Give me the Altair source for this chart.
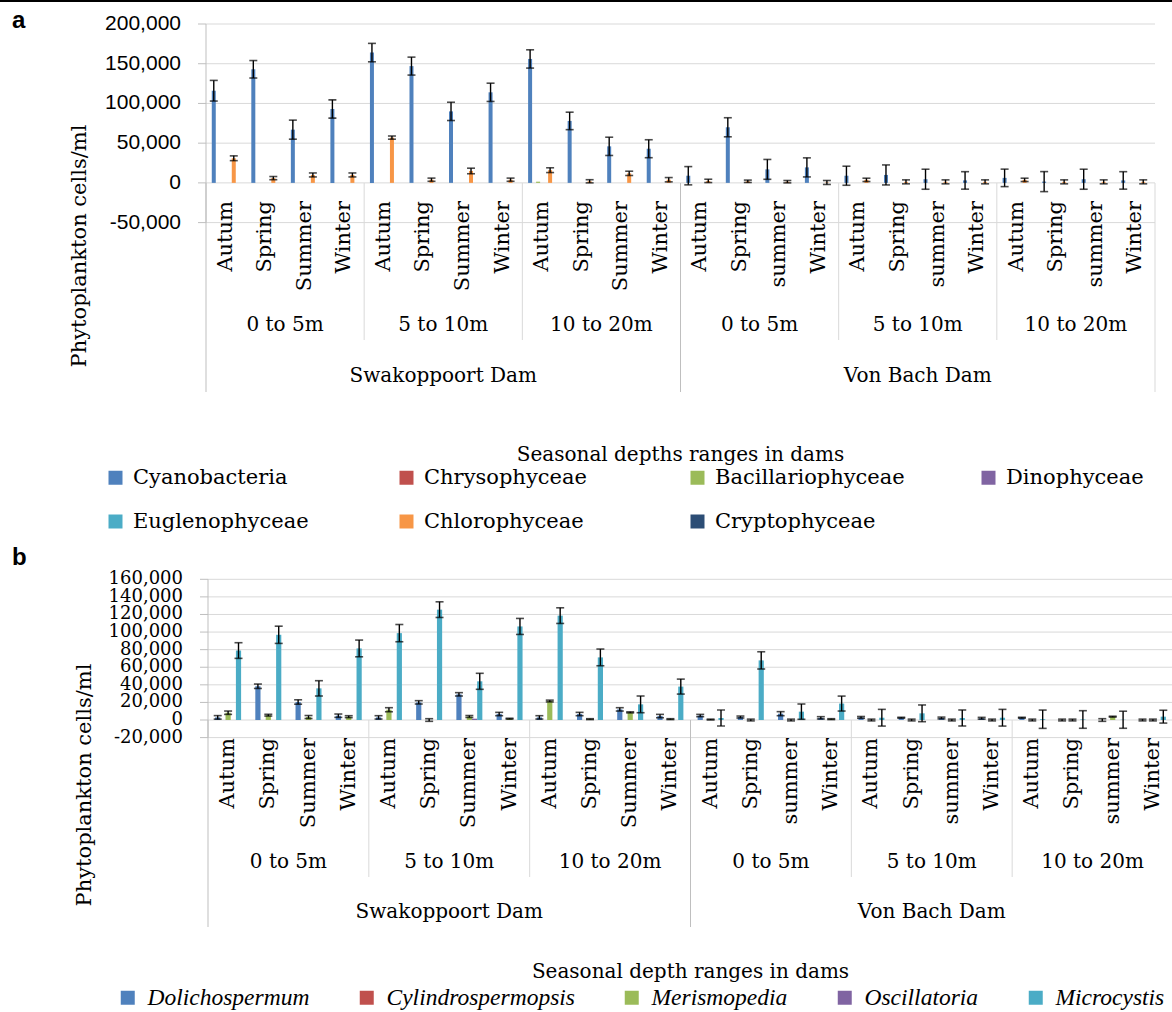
import altair as alt
import pandas as pd

SERIF = "DejaVu Serif"
SERIF_NARROW = "Liberation Serif"
SANS = "Liberation Sans"
TEXT = "#000000"
GRID = "#d9d9d9"
LINE = "#bfbfbf"

# ---- category hierarchy (dam / depth range / season) ----
DAMS = ["Swakoppoort Dam", "Von Bach Dam"]
DEPTHS = ["0 to 5m", "5 to 10m", "10 to 20m"]
SEASONS = {
    "Swakoppoort Dam": ["Autum", "Spring", "Summer", "Winter"],
    "Von Bach Dam": ["Autum", "Spring", "summer", "Winter"],
}

# ---- panel a: phytoplankton classes (cells/ml, mean and error) ----
CLASSES = ["Cyanobacteria", "Chrysophyceae", "Bacillariophyceae", "Dinophyceae",
           "Euglenophyceae", "Chlorophyceae", "Cryptophyceae"]
CLASS_COLORS = ["#4F81BD", "#C0504D", "#9BBB59", "#8064A2", "#4BACC6", "#F79646", "#2C4D75"]

CYANO = [116000, 143000, 67000, 93000, 164000, 147000, 90000, 114000,
         156000, 78000, 46000, 43000, 9000, 70000, 17000, 19500,
         9000, 10000, 4600, 3100, 6300, 1600, 4600, 3100]
CYANO_ERR = [13000, 11000, 12000, 11500, 11600, 11300, 11500, 11500,
             11500, 11000, 11500, 11300, 11500, 12000, 12500, 12000,
             12000, 12600, 12600, 11000, 11000, 12600, 12600, 11000]
CHLORO = [31000, 6000, 10000, 10000, 57000, 4000, 15000, 4000,
          16000, 2000, 12000, 4000, 2500, 2000, 1500, 500,
          3800, 1300, 1300, 1300, 3800, 1300, 1300, 1300]
CHLORO_ERR = [3000, 2000, 2500, 2500, 2000, 2000, 3500, 2000,
              3000, 2000, 2700, 2700, 2100, 1500, 1500, 2500,
              2100, 2500, 2500, 2500, 2100, 2500, 2500, 2500]
BACILL = [None, None, None, None, None, None, None, None,
          1500, None, None, None, None, None, None, None,
          None, None, None, None, None, None, None, None]
BACILL_ERR = [0, 0, 0, 0, 0, 0, 0, 0, 0, 0, 0, 0,
              0, 0, 0, 0, 0, 0, 0, 0, 0, 0, 0, 0]

# ---- panel b: cyanobacteria genera ----
GENERA = ["Dolichospermum", "Cylindrospermopsis", "Merismopedia", "Oscillatoria", "Microcystis"]
GENUS_COLORS = ["#4F81BD", "#C0504D", "#9BBB59", "#8064A2", "#4BACC6"]

DOLICHO = [3000, 38400, 20500, 4900, 3000, 20100, 29200, 6800,
           3000, 6800, 12100, 4500, 5100, 3400, 7200, 2500,
           3000, 2600, 2300, 2000, 2600, 0, 0, 0]
DOLICHO_ERR = [2000, 2500, 2500, 1900, 1900, 1900, 1900, 1900,
               1900, 1900, 1900, 1900, 1300, 1100, 2300, 1300,
               1000, 500, 1000, 1000, 500, 1000, 1500, 1000]
MERIS = [8300, 5500, 3400, 3800, 11700, 0, 4000, 1500,
         21600, 1000, 8700, 1000, 500, 0, 0, 1000,
         0, 0, 0, 0, 0, 0, 3800, 0]
MERIS_ERR = [1900, 1000, 1700, 1100, 2300, 1500, 1100, 500,
             1000, 500, 600, 500, 500, 1000, 1000, 500,
             1000, 1000, 1000, 1000, 1000, 1000, 500, 1000]
OSCILL = [None, None, None, None, None, None, 1500, None,
          None, None, None, None, None, None, None, None,
          None, None, None, None, None, None, None, None]
OSCILL_ERR = [0, 0, 0, 0, 0, 0, 0, 0, 0, 0, 0, 0,
              0, 0, 0, 0, 0, 0, 0, 0, 0, 0, 0, 0]
MICRO = [79000, 96900, 36000, 81400, 98800, 125500, 44000, 106400,
         118700, 71200, 17800, 38000, 2300, 67800, 9500, 18700,
         2600, 7600, 2300, 2600, 900, 600, 300, 3800]
MICRO_ERR = [8900, 9800, 8700, 9500, 9800, 8900, 9100, 9100,
             8900, 9500, 9500, 8500, 9100, 9800, 8700, 8500,
             9500, 9500, 9100, 9500, 10400, 10000, 9700, 7300]

TICKS_A = [-50000, 0, 50000, 100000, 150000, 200000]
TICKS_B = [-20000, 0, 20000, 40000, 60000, 80000, 100000, 120000, 140000, 160000]
Y_TITLE = "Phytoplankton cells/ml"
X_TITLE_A = "Seasonal depths ranges  in dams"
X_TITLE_B = "Seasonal depth ranges in dams"

# ---- tables ----
cat_rows = []
for dam in DAMS:
    for depth in DEPTHS:
        for season in SEASONS[dam]:
            cat_rows.append({"cat": f"{dam} / {depth} / {season}",
                             "dam": dam, "depth": depth, "season": season})
cats = pd.DataFrame(cat_rows)
CAT_KEYS = list(cats["cat"])

depth_labels = pd.DataFrame([{"cat": CAT_KEYS[d * 4 + 2 + k * 12], "label": DEPTHS[d]}
                             for k in range(2) for d in range(3)])
dam_labels = pd.DataFrame([{"cat": CAT_KEYS[k * 12 + 6], "label": DAMS[k]} for k in range(2)])
depth_edges = pd.DataFrame([{"cat": CAT_KEYS[k * 12 + d * 4]} for k in range(2) for d in (1, 2)])
dam_edges = pd.DataFrame([{"cat": CAT_KEYS[0]}, {"cat": CAT_KEYS[12]}])
last_edge = pd.DataFrame([{"cat": CAT_KEYS[-1]}])


def measurements(series):
    rows = []
    for name, (means, errs) in series.items():
        for key, m, e in zip(CAT_KEYS, means, errs):
            if m is None:
                continue
            rows.append({"cat": key, "series": name, "value": m,
                         "lo": m - e, "hi": m + e, "err": e})
    return pd.DataFrame(rows)


def value_axis(ticks, ys, x0, font, size, gap, title_x, title_y):
    """Vertical value axis: line, outward ticks, comma-formatted labels, title."""
    tdf = pd.DataFrame({"tick": ticks, "label": [f"{t:,}" for t in ticks]})
    Y = alt.Y("tick:Q", scale=ys, axis=None)
    line = alt.Chart(pd.DataFrame({"lo": [ticks[0]], "hi": [ticks[-1]]})).mark_rule(
        color=LINE, strokeWidth=1).encode(
        x=alt.value(x0), y=alt.Y("lo:Q", scale=ys, axis=None), y2="hi:Q")
    marks = alt.Chart(tdf).mark_rule(color=LINE, strokeWidth=1).encode(
        x=alt.value(x0 - 8), x2=alt.value(x0), y=Y)
    labels = alt.Chart(tdf).mark_text(
        align="right", baseline="middle", font=font, fontSize=size, color=TEXT).encode(
        x=alt.value(x0 - 8 - gap), y=Y, text="label:N")
    title = alt.Chart(pd.DataFrame({"t": [Y_TITLE]})).mark_text(
        angle=270, align="center", baseline="middle", font=SERIF, fontSize=21,
        color=TEXT).encode(x=alt.value(title_x), y=alt.value(title_y), text="t:N")
    return [line, marks, labels, title]


def panel(data, names, colors, ydomain, yrange, ticks, xrange, bar_w, cap,
          axis_style, rows, x_title, legend):
    xs = alt.Scale(domain=CAT_KEYS, range=xrange, paddingInner=0, paddingOuter=0)
    ys = alt.Scale(domain=ydomain, range=yrange, nice=False, zero=False)
    band = (xrange[1] - xrange[0]) / len(CAT_KEYS)
    cluster = bar_w * len(names)
    offs = alt.Scale(domain=names, range=[(band - cluster) / 2, (band + cluster) / 2],
                     paddingInner=0, paddingOuter=0)
    X = alt.X("cat:N", scale=xs, axis=None)
    XE = alt.X("cat:N", scale=xs, axis=None, bandPosition=0)
    XO = alt.XOffset("series:N", scale=offs)

    grid = alt.Chart(pd.DataFrame({"tick": ticks})).mark_rule(
        color=GRID, strokeWidth=1).encode(
        y=alt.Y("tick:Q", scale=ys, axis=None),
        x=alt.value(xrange[0]), x2=alt.value(xrange[1]))

    bars = alt.Chart(data).mark_bar().encode(
        x=X, xOffset=XO,
        y=alt.Y("value:Q", scale=ys, axis=None),
        color=alt.Color("series:N", scale=alt.Scale(domain=names, range=colors),
                        legend=legend))

    errd = data[data["err"] > 0]
    whisk = alt.Chart(errd).mark_rule(color="black", strokeWidth=1.4).encode(
        x=X, xOffset=XO, y=alt.Y("lo:Q", scale=ys, axis=None), y2="hi:Q")
    cap_lo = alt.Chart(errd).mark_tick(color="black", thickness=1.6, size=cap).encode(
        x=X, xOffset=XO, y=alt.Y("lo:Q", scale=ys, axis=None))
    cap_hi = alt.Chart(errd).mark_tick(color="black", thickness=1.6, size=cap).encode(
        x=X, xOffset=XO, y=alt.Y("hi:Q", scale=ys, axis=None))

    seasons = alt.Chart(cats).mark_text(
        angle=270, align="right", baseline="middle", font=SERIF, fontSize=21,
        color=TEXT).encode(x=X, y=alt.value(rows["season"]), text="season:N")
    depths = alt.Chart(depth_labels).mark_text(
        align="center", baseline="middle", font=SERIF, fontSize=20, color=TEXT).encode(
        x=XE, y=alt.value(rows["depth"]), text="label:N")
    dams = alt.Chart(dam_labels).mark_text(
        align="center", baseline="middle", font=SERIF, fontSize=20, color=TEXT).encode(
        x=XE, y=alt.value(rows["dam"]), text="label:N")
    xtitle = alt.Chart(pd.DataFrame({"cat": [CAT_KEYS[12]], "label": [x_title]})).mark_text(
        align="center", baseline="middle", font=SERIF, fontSize=20, color=TEXT).encode(
        x=XE, y=alt.value(rows["title"]), text="label:N")

    sep_depth = alt.Chart(depth_edges).mark_rule(color=GRID, strokeWidth=1).encode(
        x=XE, y=alt.value(rows["zero"]), y2=alt.value(rows["depth_end"]))
    sep_dam = alt.Chart(dam_edges).mark_rule(color=LINE, strokeWidth=1).encode(
        x=XE, y=alt.value(rows["zero"]), y2=alt.value(rows["dam_end"]))
    sep_last = alt.Chart(last_edge).mark_rule(color=GRID, strokeWidth=1).encode(
        x=alt.X("cat:N", scale=xs, axis=None, bandPosition=1),
        y=alt.value(rows["zero"]), y2=alt.value(rows["dam_end"]))

    axis_layers = value_axis(ticks, ys, xrange[0], *axis_style)
    return alt.layer(grid, sep_depth, sep_dam, sep_last, *axis_layers,
                     bars, whisk, cap_lo, cap_hi, seasons, depths, dams, xtitle)


data_a = measurements({
    "Cyanobacteria": (CYANO, CYANO_ERR),
    "Bacillariophyceae": (BACILL, BACILL_ERR),
    "Chlorophyceae": (CHLORO, CHLORO_ERR),
})
data_b = measurements({
    "Dolichospermum": (DOLICHO, DOLICHO_ERR),
    "Merismopedia": (MERIS, MERIS_ERR),
    "Oscillatoria": (OSCILL, OSCILL_ERR),
    "Microcystis": (MICRO, MICRO_ERR),
})

legend_a = alt.Legend(
    orient="none", legendX=-101, legendY=467, direction="horizontal", columns=4,
    gridAlign="all", columnPadding=73, rowPadding=22, padding=0, title=None,
    labelFont=SERIF, labelFontSize=21, labelColor=TEXT, labelOffset=7, labelLimit=400,
    symbolType="square", symbolSize=196, symbolStrokeWidth=0)
legend_b = alt.Legend(
    orient="none", legendX=-90, legendY=986, direction="horizontal", columns=5,
    gridAlign="none", columnPadding=45, padding=0, title=None,
    labelFont=SERIF_NARROW, labelFontStyle="italic", labelFontSize=23.5,
    labelColor=TEXT, labelOffset=8, labelLimit=400,
    symbolType="square", symbolSize=196, symbolStrokeWidth=0)

panel_a = panel(
    data_a, CLASSES, CLASS_COLORS, [-50000, 200000], [222.6, 24], TICKS_A, [0, 949],
    4.0, 8, (SANS, 21, 17, -126, 246),
    {"season": 201, "depth": 325, "dam": 376, "zero": 183, "depth_end": 340,
     "dam_end": 392, "title": 455},
    X_TITLE_A, legend_a)
panel_b = panel(
    data_b, GENERA, GENUS_COLORS, [-20000, 160000], [737.6, 579.3], TICKS_B, [2, 967],
    5.2, 8, (SERIF, 18, 17, -121, 785),
    {"season": 738, "depth": 862, "dam": 912, "zero": 720, "depth_end": 877,
     "dam_end": 927, "title": 972},
    X_TITLE_B, legend_b)

tags = pd.DataFrame({"tag": ["a", "b"]})
tag_a = alt.Chart(tags[tags.tag == "a"]).mark_text(
    font=SANS, fontSize=24, fontWeight="bold", align="left", baseline="alphabetic",
    color=TEXT).encode(x=alt.value(-194), y=alt.value(28), text="tag:N")
tag_b = alt.Chart(tags[tags.tag == "b"]).mark_text(
    font=SANS, fontSize=24, fontWeight="bold", align="left", baseline="alphabetic",
    color=TEXT).encode(x=alt.value(-194), y=alt.value(565), text="tag:N")
top_line = alt.Chart(tags.head(1)).mark_rule(color="black", strokeWidth=2).encode(
    x=alt.value(-206), x2=alt.value(966), y=alt.value(1))

chart = alt.layer(panel_a, panel_b, tag_a, tag_b, top_line).resolve_scale(
    x="independent", y="independent", color="independent", xOffset="independent"
).properties(
    width=966, height=1012,
    autosize=alt.AutoSizeParams(type="none"),
    padding={"left": 206, "top": 0, "right": 0, "bottom": 0},
    background="white",
).configure_view(stroke="transparent")

chart.save("out.html", embed_options={"renderer": "svg", "actions": False})
